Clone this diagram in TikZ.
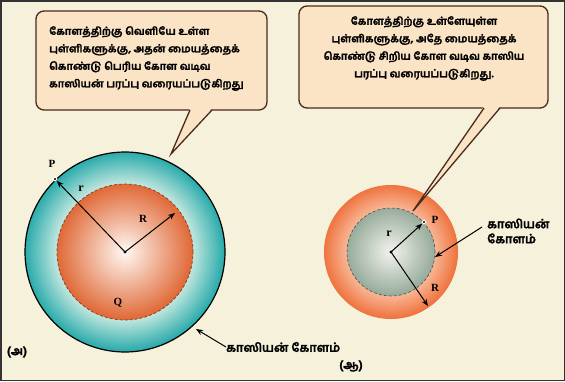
\documentclass[tikz,border=0pt]{standalone}
\usepackage{fontspec}
\setmainfont{Liberation Serif}
\newfontfamily\tamil[Script=Tamil, FakeBold=1.6, BoldFeatures={FakeBold=1.6}]{Hind Madurai}
\usetikzlibrary{arrows.meta}
\definecolor{bg}{HTML}{F5F1DA}
\definecolor{boxfill}{HTML}{FBE3C6}
\definecolor{boxline}{HTML}{4B2A1C}
\definecolor{tdark}{HTML}{2AABAB}
\definecolor{tlight}{HTML}{C4E8E0}
\definecolor{odark}{HTML}{E06A38}
\definecolor{ocenter}{HTML}{FFFAF5}
\definecolor{roedge}{HTML}{EF7440}
\definecolor{roinner}{HTML}{F8B896}
\definecolor{gedge}{HTML}{98AC9C}
\definecolor{gcenter}{HTML}{F4F5F0}
\definecolor{dashred}{HTML}{8A3A20}
\tikzset{
  callbox/.style={draw=boxline, fill=boxfill, line width=1.3pt, rounded corners=8pt, inner sep=0pt},
  tamtext/.style={font=\tamil\bfseries\fontsize{10.5}{17.5}\selectfont, inner sep=0pt, text=black},
  taillbl/.style={font=\tamil\bfseries\fontsize{12}{15}\selectfont, inner sep=0pt, text=black},
  lbl/.style={font=\bfseries\fontsize{11}{13}\selectfont, inner sep=0pt},
  arr/.style={-{Stealth[length=7pt,width=5.5pt]}, line width=1pt, black},
  tailline/.style={draw=boxline, line width=1.3pt},
  dotpt/.style={circle, fill=black, draw=white, line width=1pt, inner sep=1.4pt}
}
\begin{document}
\begin{tikzpicture}[x=1pt,y=-1pt]
\useasboundingbox (0,0) rectangle (565,381);
\fill[bg] (0,0) rectangle (565,381);
\draw[black!80, line width=1.5pt] (0.75,0.75) rectangle (564.25,380.25);

% ---------- left sphere ----------
\coordinate (C1) at (125,252);
\foreach \i in {0,...,32}{
  \pgfmathsetmacro\rr{100-\i}
  \pgfmathsetmacro\pp{100*\i/32}
  \fill[tlight!\pp!tdark] (C1) circle[radius=\rr pt];
}
\foreach \i in {0,...,67}{
  \pgfmathsetmacro\rr{68-\i}
  \pgfmathsetmacro\pp{100*((68-\i)/68)}
  \fill[odark!\pp!ocenter] (C1) circle[radius=\rr pt];
}
\draw[black, line width=1.2pt] (C1) circle[radius=100pt];
\draw[dashred, line width=0.7pt, densely dashed] (C1) circle[radius=68pt];
\node[circle, fill=black, inner sep=1.1pt] (c1dot) at (C1) {};
\node[dotpt] (P1) at (55,179) {};
\node[lbl] (P1l) at (52,164) {P};
\coordinate (R1end) at (175,213);
\draw[arr] (C1) -- (P1);
\draw[arr] (C1) -- (R1end);
\node[lbl, font=\bfseries\fontsize{12}{13}\selectfont] (r1l) at (81,189) {r};
\node[lbl] (R1l) at (143,219) {R};
\node[lbl] (Q1l) at (118,303) {Q};

% ---------- right sphere ----------
\coordinate (C2) at (391,252);
\foreach \i in {0,...,23}{
  \pgfmathsetmacro\rr{67-\i}
  \pgfmathsetmacro\pp{100*\i/23}
  \fill[roinner!\pp!roedge] (C2) circle[radius=\rr pt];
}
\foreach \i in {0,...,43}{
  \pgfmathsetmacro\rr{44-\i}
  \pgfmathsetmacro\pp{100*((44-\i)/44)}
  \fill[gedge!\pp!gcenter] (C2) circle[radius=\rr pt];
}
\draw[black!70, line width=0.6pt, densely dashed] (C2) circle[radius=44pt];
\node[circle, fill=black, inner sep=1.1pt] (c2dot) at (C2) {};
\node[dotpt] (P2) at (424,222) {};
\node[lbl] (P2l) at (435,220) {P};
\coordinate (R2end) at (428,306);
\draw[arr] (C2) -- (P2);
\draw[arr] (C2) -- (R2end);
\node[lbl, font=\bfseries\fontsize{12}{13}\selectfont] (r2l) at (389,234) {r};
\node[lbl] (R2l) at (435,288) {R};

% ---------- left callout ----------
\node[callbox, minimum width=231pt, minimum height=99pt] (lbox) at (151.5,60.5) {};
\coordinate (ltip) at (171,154);
\coordinate (lb1) at (190,108.3);
\coordinate (lb2) at (212,108.3);
\fill[boxfill] (lb1) -- (ltip) -- (lb2) -- cycle;
\draw[tailline] (190,110) -- (ltip) -- (212,110);
\node[tamtext, align=left, anchor=north west] (ltext) at (49,26) {%
கோளத்திற்கு வெளியே உள்ள\\
புள்ளிகளுக்கு, அதன் மையத்தைக்\\
கொண்டு பெரிய கோள வடிவ\\
காஸியன் பரப்பு வரையப்படுகிறது};

% ---------- right callout ----------
\node[callbox, minimum width=249pt, minimum height=102pt] (rbox) at (423.5,57) {};
\coordinate (rtip) at (413,211);
\coordinate (rb1) at (484,106.3);
\coordinate (rb2) at (500,106.3);
\fill[boxfill] (rb1) -- (rtip) -- (rb2) -- cycle;
\draw[tailline] (484,108) -- (rtip) -- (500,108);
\node[tamtext, align=center, anchor=north] (rtext) at (424,16) {%
கோளத்திற்கு உள்ளேயுள்ள\\
புள்ளிகளுக்கு, அதே மையத்தைக்\\
கொண்டு சிறிய கோள வடிவ காஸிய\\
பரப்பு வரையப்படுகிறது.};

% ---------- Gaussian sphere labels ----------
\node[taillbl, anchor=west] (g1) at (226,347) {காஸியன் கோளம்};
\coordinate (g1pt) at (196,329);
\draw[arr] (g1.west) -- (g1pt);
\node[taillbl, align=left, anchor=west] (g2) at (487,231) {காஸியன்\\கோளம்};
\coordinate (g2pt) at (435,257);
\draw[arr] (482,227) -- (g2pt);

\node[taillbl] (la) at (17,352) {(அ)};
\node[taillbl] (lb) at (351,366) {(ஆ)};
\end{tikzpicture}
\end{document}
